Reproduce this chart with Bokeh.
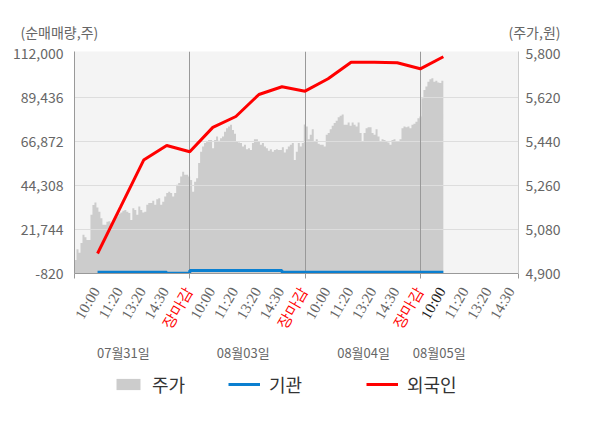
import numpy as np
from math import radians
from bokeh.plotting import figure
from bokeh.layouts import column
from bokeh.models import (Range1d, LinearAxis, FixedTicker, NumeralTickFormatter, Label, LabelSet,
                          ColumnDataSource, Legend, LegendItem, Grid, CustomJSTickFormatter)
from bokeh.embed import file_html
from bokeh.resources import INLINE

FONT = "Noto Sans CJK KR"

# ---------------- data ----------------
DATES = ["07월31일", "08월03일", "08월04일", "08월05일"]
SESSION_TICKS = ["10:00", "11:20", "13:20", "14:30", "장마감"]
LEFT_TICKS = [-820, 21744, 44308, 66872, 89436, 112000]
RIGHT_TICKS = [4900, 5080, 5260, 5440, 5620, 5800]

# net buying (cumulative, shares) at each session checkpoint, 07/31 10:00 .. 08/05 10:00
FOREIGN = [9400, 33300, 57400, 64900, 61700,
           74200, 79800, 91100, 95100, 92800,
           99200, 107700, 107700, 107400, 104300,
           110500]
INSTITUTION = [-250, -250, -250, -820, 650,
               650, 650, 650, -250, -250,
               -250, -250, -250, -250, -250,
               -250]

# intraday price (won)
PRICE_0731 = [4955, 4999, 4984, 5024, 5058, 5048, 5037, 5037, 5140, 5180,
              5190, 5170, 5153, 5126, 5099, 5099, 5112, 5114, 5106, 5119,
              5126, 5133, 5144, 5149, 5157, 5160, 5153, 5147, 5119, 5167,
              5160, 5140, 5174, 5160, 5149, 5153, 5181, 5188, 5188, 5198,
              5181, 5204, 5208, 5181, 5194, 5215, 5229, 5235, 5229, 5215,
              5229, 5263, 5270, 5297, 5317, 5304, 5304, 5297]
PRICE_0803 = [5283, 5235, 5276, 5290, 5352, 5399, 5420, 5434, 5440, 5447,
              5447, 5413, 5447, 5461, 5444, 5454, 5461, 5481, 5495, 5502,
              5509, 5488, 5472, 5440, 5436, 5434, 5420, 5427, 5409, 5413,
              5406, 5434, 5450, 5450, 5440, 5427, 5434, 5420, 5413, 5403,
              5409, 5399, 5406, 5409, 5406, 5406, 5417, 5395, 5409, 5420,
              5427, 5434, 5365, 5399, 5434, 5420, 5434, 5510]
PRICE_0804 = [5502, 5450, 5468, 5491, 5440, 5450, 5431, 5427, 5427, 5420,
              5468, 5475, 5491, 5505, 5516, 5526, 5540, 5546, 5551, 5509,
              5509, 5518, 5505, 5518, 5509, 5502, 5518, 5475, 5440, 5475,
              5495, 5499, 5499, 5475, 5468, 5491, 5461, 5440, 5450, 5447,
              5440, 5436, 5427, 5447, 5450, 5440, 5440, 5450, 5495, 5502,
              5499, 5502, 5495, 5509, 5513, 5522, 5536, 5543]
PRICE_0805 = [5618, 5652, 5666, 5686, 5696, 5700, 5686, 5690, 5682, 5680, 5690]

# ---------------- layout constants ----------------
DAY_LEN = 25.0          # x units per trading day
TICK_STEP = 5.0         # x units between session checkpoints
X_END = 96.3
Y_START, Y_END = -900, 113200
L_MIN, L_MAX = LEFT_TICKS[0], LEFT_TICKS[-1]
R_MIN, R_MAX = RIGHT_TICKS[0], RIGHT_TICKS[-1]

W = 590
ML, MR = 74, 72                  # main frame borders
FRAME_W = W - ML - MR            # 444
HEAD_H = 41
MAIN_TOP, FRAME_H, MAIN_BOT = 10, 222, 10
MAIN_H = MAIN_TOP + FRAME_H + MAIN_BOT
FOOT_H = 138
PX_PER_UNIT = FRAME_W / X_END


def to_price(v):
    return R_MIN + (v - L_MIN) * (R_MAX - R_MIN) / (L_MAX - L_MIN)


PRICE_LO, PRICE_HI = to_price(Y_START), to_price(Y_END)

price = PRICE_0731 + PRICE_0803 + PRICE_0804 + PRICE_0805
price_end_x = 3 * DAY_LEN + TICK_STEP          # price stops at 08/05 10:00
px = np.linspace(0, price_end_x, len(price) + 1).tolist()
py = price + [price[-1]]
fx = [(i + 1) * TICK_STEP for i in range(len(FOREIGN))]


def bare(height, x_range):
    return figure(width=W, height=height, x_range=x_range, y_range=Range1d(0, height),
                  output_backend="svg", toolbar_location=None, x_axis_type=None, y_axis_type=None,
                  min_border_left=0, min_border_right=0, min_border_top=0,
                  min_border_bottom=0, outline_line_color=None, frame_align=False,
                  background_fill_color="white", border_fill_color="white")


# ---------------- header ----------------
head = bare(HEAD_H, Range1d(0, W))
head.add_layout(Label(x=20, y=9.5, x_units="screen", y_units="screen", text="(순매매량,주)",
                      text_align="left", text_baseline="middle", text_font=FONT,
                      text_font_size="14px", text_color="#666666"))
head.add_layout(Label(x=ML + FRAME_W + 42, y=9.5, x_units="screen", y_units="screen", text="(주가,원)",
                      text_align="right", text_baseline="middle", text_font=FONT,
                      text_font_size="14px", text_color="#666666"))

# ---------------- main chart ----------------
p = figure(width=W, height=MAIN_H, x_range=Range1d(0, X_END), y_range=Range1d(Y_START, Y_END),
           output_backend="svg", toolbar_location=None,
           x_axis_type=None, y_axis_type=None, frame_align=False,
           min_border_left=ML, min_border_right=MR, min_border_top=MAIN_TOP,
           min_border_bottom=MAIN_BOT,
           background_fill_color="#f4f4f4", border_fill_color="white", outline_line_color=None)
p.extra_y_ranges = {"price": Range1d(PRICE_LO, PRICE_HI)}

p.add_layout(Grid(dimension=1, ticker=FixedTicker(ticks=LEFT_TICKS[1:-1]),
                  grid_line_color="#dddddd", grid_line_width=1))
p.add_layout(Grid(dimension=0, ticker=FixedTicker(ticks=[DAY_LEN, 2 * DAY_LEN, 3 * DAY_LEN]),
                  grid_line_color="#999999", grid_line_width=1))

lax = LinearAxis(ticker=FixedTicker(ticks=LEFT_TICKS), formatter=NumeralTickFormatter(format="0,0"),
                 axis_line_color="#999999", major_tick_line_color=None, minor_tick_line_color=None,
                 major_tick_out=0, major_tick_in=0,
                 major_label_standoff=11, major_label_text_font=FONT,
                 major_label_text_font_size="14px", major_label_text_color="#666666")
p.add_layout(lax, "left")
rax = LinearAxis(y_range_name="price", ticker=FixedTicker(ticks=RIGHT_TICKS),
                 formatter=NumeralTickFormatter(format="0,0"),
                 axis_line_color="#cccccc", major_tick_line_color=None, minor_tick_line_color=None,
                 major_tick_out=0, major_tick_in=0,
                 major_label_standoff=7, major_label_text_font=FONT,
                 major_label_text_font_size="14px", major_label_text_color="#666666")
p.add_layout(rax, "right")
bax = LinearAxis(ticker=FixedTicker(ticks=[0, DAY_LEN, 2 * DAY_LEN, 3 * DAY_LEN, X_END]),
                 formatter=CustomJSTickFormatter(code="return ''"),
                 axis_line_color="#999999", major_tick_line_color="#999999",
                 major_tick_out=5, major_tick_in=0, minor_tick_line_color=None)
p.add_layout(bax, "below")

p.varea_step(x=px, y1=PRICE_LO, y2=py, step_mode="after", fill_color="#cccccc",
             y_range_name="price", level="image")
p.step(x=fx, y=INSTITUTION, mode="after", line_color="#0a7fd0", line_width=3)
p.line(x=fx, y=FOREIGN, line_color="#ff0000", line_width=3)

# ---------------- footer: tick labels, dates, legend ----------------
foot = bare(FOOT_H, Range1d(-ML / PX_PER_UNIT, X_END + MR / PX_PER_UNIT))

tx, tt, tc = [], [], []
for d in range(len(DATES)):
    for i, t in enumerate(SESSION_TICKS):
        x = d * DAY_LEN + (i + 1) * TICK_STEP
        if x > X_END:
            continue
        tx.append(x)
        tt.append(t)
        if t == "장마감":
            tc.append("#ff0000")
        elif d == len(DATES) - 1 and i == 0:
            tc.append("#222222")
        else:
            tc.append("#666666")
src = ColumnDataSource(dict(x=tx, text=tt, color=tc))
foot.add_layout(LabelSet(x="x", y=FOOT_H - 5, y_units="screen", text="text", source=src,
                         angle=radians(60), text_align="right", text_baseline="middle",
                         text_color="color", text_font=FONT, text_font_size="15px",
                         x_offset=-1.5))

date_x = [10.6, 36.6, 62.7, 79.1]
for dx, dt in zip(date_x, DATES):
    foot.add_layout(Label(x=dx, y=FOOT_H - 69, y_units="screen", text=dt, text_align="center",
                          text_baseline="middle", text_font=FONT, text_font_size="13px",
                          text_color="#666666"))

# legend proxies: same series, drawn in this strip's own (pixel) y range so they fall out of view
r_area = foot.varea_step(x=px, y1=PRICE_LO, y2=py, step_mode="after", fill_color="#cccccc")
r_inst = foot.line(x=fx, y=[v + 1000 for v in INSTITUTION], line_color="#0a7fd0", line_width=3)
r_frgn = foot.line(x=fx, y=FOREIGN, line_color="#ff0000", line_width=3)
for rend, lab, lx, gw in [(r_area, "주가", 113, 30), (r_inst, "기관", 228, 32), (r_frgn, "외국인", 366, 32)]:
    lg = Legend(items=[LegendItem(label=lab, renderers=[rend])], location=(lx, 24),
                orientation="horizontal", padding=0, margin=0, border_line_color=None,
                background_fill_alpha=0, glyph_width=gw, glyph_height=14, label_height=14,
                label_standoff=9, label_text_font=FONT, label_text_font_size="18px",
                label_text_color="#333333", label_text_baseline="middle")
    foot.add_layout(lg)

layout = column(head, p, foot)
open("out.html", "w").write(file_html(layout, INLINE))
